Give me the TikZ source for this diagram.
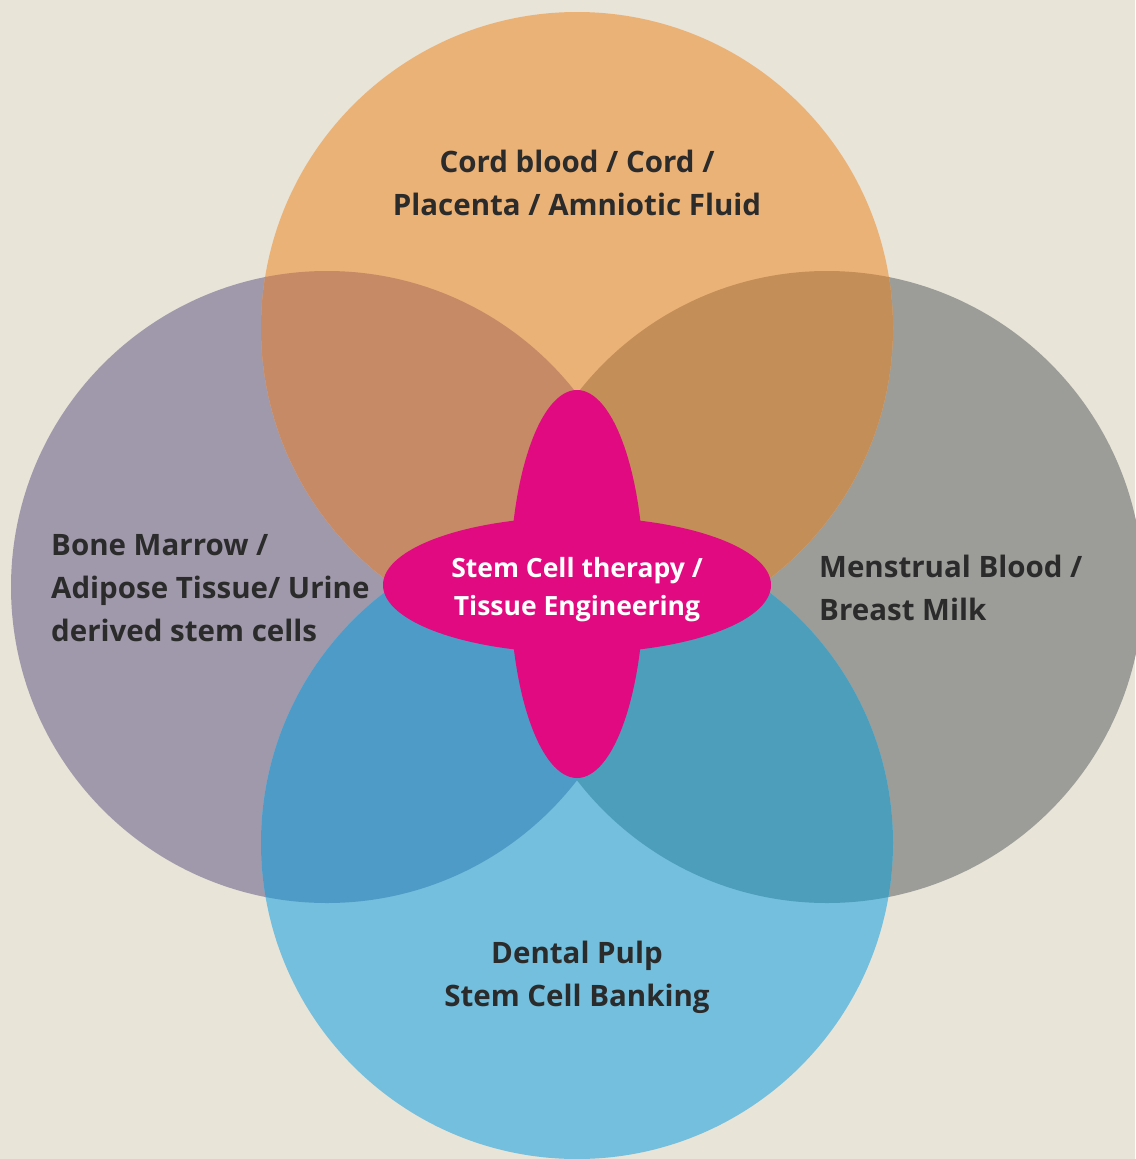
\documentclass[tikz,border=0pt]{standalone}
\usepackage{fontspec}
\setmainfont{Open Sans}
\definecolor{bg}{HTML}{E8E4D8}
\definecolor{cTop}{HTML}{EBB278}
\definecolor{cLeft}{HTML}{A099AB}
\definecolor{cRight}{HTML}{9C9D98}
\definecolor{cBot}{HTML}{73BFDD}
\definecolor{cTL}{HTML}{C68A66}
\definecolor{cTR}{HTML}{C38E58}
\definecolor{cBL}{HTML}{4F9BC7}
\definecolor{cBR}{HTML}{4C9EBA}
\definecolor{cPink}{HTML}{E10A80}
\definecolor{txt}{HTML}{2B2B2B}
\begin{document}
\begin{tikzpicture}[x=1pt,y=-1pt,
  lbl/.style={text=txt,font=\fontsize{29.5}{43}\selectfont\bfseries,inner sep=0pt},
  clbl/.style={text=white,font=\fontsize{26.5}{38}\selectfont\bfseries,inner sep=0pt,align=center}]
\useasboundingbox (0,0) rectangle (1135,1159);
\fill[bg] (0,0) rectangle (1135,1159);
\coordinate (T) at (577,328);
\coordinate (L) at (327,587);
\coordinate (R) at (827,587);
\coordinate (B) at (577,843);
\def\rr{316}
\fill[cLeft] (L) circle (\rr);
\fill[cRight] (R) circle (\rr);
\fill[cTop] (T) circle (\rr);
\fill[cBot] (B) circle (\rr);
\begin{scope}\clip (T) circle (\rr); \fill[cTL] (L) circle (\rr); \end{scope}
\begin{scope}\clip (T) circle (\rr); \fill[cTR] (R) circle (\rr); \end{scope}
\begin{scope}\clip (B) circle (\rr); \fill[cBL] (L) circle (\rr); \end{scope}
\begin{scope}\clip (B) circle (\rr); \fill[cBR] (R) circle (\rr); \end{scope}
\fill[cPink] (577,585) ellipse [x radius=194, y radius=68];
\fill[cPink] (577,584) ellipse [x radius=67, y radius=194];
\node[lbl,align=center] (top) at (577,183) {Cord blood / Cord /\\Placenta / Amniotic Fluid};
\node[lbl,align=left,anchor=west] (left) at (51,588) {Bone Marrow /\\Adipose Tissue/ Urine\\derived stem cells};
\node[lbl,align=left,anchor=west] (right) at (819,588) {Menstrual Blood /\\Breast Milk};
\node[lbl,align=center] (bot) at (577,977) {Dental Pulp\\Stem Cell Banking};
\node[clbl] (ctr) at (577,590) {Stem Cell therapy /\\Tissue Engineering};
\end{tikzpicture}
\end{document}
